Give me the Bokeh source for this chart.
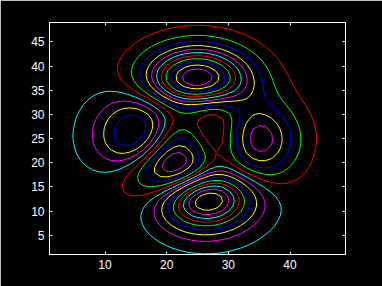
import numpy as np
from bokeh.plotting import figure
from bokeh.models import LinearAxis, FixedTicker, Range1d
from bokeh.embed import file_html
from bokeh.resources import INLINE

# --- data -------------------------------------------------------------
grid_n = 49                      # peaks(49) sample grid
grid_span = [-3.0, 3.0]
x_ticks = [10, 20, 30, 40]
y_ticks = [5, 10, 15, 20, 25, 30, 35, 40, 45]
level_count = 20
level_colors = ["#ffff00", "#ff00ff", "#00ffff", "#ff0000", "#00ff00", "#0000ff"]

u = np.linspace(grid_span[0], grid_span[1], grid_n)
X, Y = np.meshgrid(u, u)
Z = (3 * (1 - X) ** 2 * np.exp(-X ** 2 - (Y + 1) ** 2)
     - 10 * (X / 5 - X ** 3 - Y ** 5) * np.exp(-X ** 2 - Y ** 2)
     - 1 / 3 * np.exp(-(X + 1) ** 2 - Y ** 2))

levels = list(np.linspace(Z.min(), Z.max(), level_count + 2)[1:-1])
colors = [level_colors[i % len(level_colors)] for i in range(level_count)]
idx = np.arange(1, grid_n + 1)

# --- figure -----------------------------------------------------------
p = figure(width=382, height=286, output_backend="svg", toolbar_location=None,
           x_range=Range1d(1, grid_n), y_range=Range1d(1, grid_n),
           background_fill_color="black", border_fill_color="black",
           min_border_left=49, min_border_right=37,
           min_border_top=22, min_border_bottom=32,
           x_axis_location=None, y_axis_location=None)
p.grid.visible = False
p.outline_line_color = "white"
p.outline_line_width = 1

p.contour(idx, idx, Z, levels, line_color=colors, line_width=1)

def mk_axis(ticks, labels=True):
    ax = LinearAxis(ticker=FixedTicker(ticks=ticks))
    ax.axis_line_color = "white"
    ax.major_tick_line_color = "white"
    ax.major_tick_in = 3
    ax.major_tick_out = 0
    ax.minor_tick_line_color = None
    ax.major_label_text_color = "white"
    ax.major_label_text_font = "Liberation Sans"
    ax.major_label_text_font_size = "12px"
    ax.major_label_standoff = 5 if labels else 0
    if not labels:
        ax.major_label_overrides = {t: "" for t in ticks}
    return ax

p.add_layout(mk_axis(x_ticks), "below")
p.add_layout(mk_axis(y_ticks), "left")
p.add_layout(mk_axis(x_ticks, False), "above")
p.add_layout(mk_axis(y_ticks, False), "right")

open("out.html", "w").write(file_html(p, INLINE))
